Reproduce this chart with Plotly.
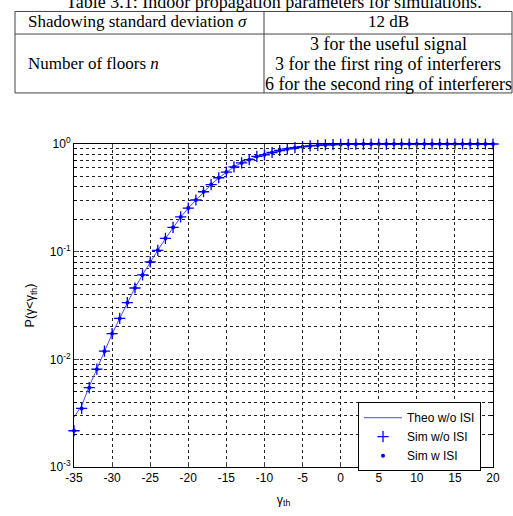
import plotly.graph_objects as go

# ---------------- data ----------------
gamma_th = [-35, -34, -33, -32, -31, -30, -29, -28, -27, -26,
            -25, -24, -23, -22, -21, -20, -19, -18, -17, -16,
            -15, -14, -13, -12, -11, -10, -9, -8, -7, -6,
            -5, -4, -3, -2, -1, 0, 1, 2, 3, 4,
            5, 6, 7, 8, 9, 10, 11, 12, 13, 14,
            15, 16, 17, 18, 19, 20]

theo_wo_isi = [0.0029, 0.0037, 0.0056, 0.0082, 0.0119, 0.0172, 0.0240, 0.0335, 0.0460, 0.0610,
               0.0805, 0.1030, 0.1320, 0.1680, 0.2090, 0.2540, 0.3020, 0.3590, 0.4200, 0.4850,
               0.5470, 0.6120, 0.6670, 0.7150, 0.7650, 0.8000, 0.8350, 0.8700, 0.9000, 0.9250,
               0.9450, 0.9600, 0.9720, 0.9810, 0.9870, 0.9910, 0.9940, 0.9960, 0.9975, 0.9985,
               0.9990, 0.9994, 0.9996, 0.9998, 0.9999, 0.9999, 1.0, 1.0, 1.0, 1.0,
               1.0, 1.0, 1.0, 1.0, 1.0, 1.0]

sim_wo_isi = [0.00217, 0.0035, 0.00545, 0.0081, 0.0119, 0.0173, 0.0240, 0.0336, 0.0460, 0.0608,
              0.0805, 0.1030, 0.1330, 0.1680, 0.2100, 0.2540, 0.3020, 0.3600, 0.4200, 0.4860,
              0.5480, 0.6140, 0.6670, 0.7150, 0.7670, 0.7940, 0.8340, 0.8700, 0.9000, 0.9250,
              0.9450, 0.9600, 0.9720, 0.9810, 0.9870, 0.9910, 0.9940, 0.9960, 0.9975, 0.9985,
              0.9990, 0.9994, 0.9996, 0.9998, 0.9999, 0.9999, 1.0, 1.0, 1.0, 1.0,
              1.0, 1.0, 1.0, 1.0, 1.0, 1.0]

sim_w_isi = [0.00217, 0.0035, 0.00545, 0.0081, 0.0119, 0.0173, 0.0240, 0.0336, 0.0460, 0.0608,
             0.0805, 0.1030, 0.1330, 0.1680, 0.2100, 0.2540, 0.3020, 0.3600, 0.4200, 0.4860,
             0.5480, 0.6140, 0.6670, 0.7150, 0.7670, 0.7940, 0.8340, 0.8700, 0.9000, 0.9250,
             0.9450, 0.9600, 0.9720, 0.9810, 0.9870, 0.9910, 0.9940, 0.9960, 0.9975, 0.9985,
             0.9990, 0.9994, 0.9996, 0.9998, 0.9999, 0.9999, 1.0, 1.0, 1.0, 1.0,
             1.0, 1.0, 1.0, 1.0, 1.0, 1.0]

y_tickvals = [0.001, 0.01, 0.1, 1]
y_ticktext = ["10<sup>-3</sup>", "10<sup>-2</sup>", "10<sup>-1</sup>", "10<sup>0</sup>"]
y_minor_vals = [m * d for d in (0.001, 0.01, 0.1) for m in range(2, 10)]
x_tickvals = [-35, -30, -25, -20, -15, -10, -5, 0, 5, 10, 15, 20]
x_ticktext = ["-35", "-30", "-25", "-20", "-15", "-10", "-5", "0", "5", "10", "15", "20"]

table_caption = "Table 3.1: Indoor propagation parameters for simulations."
table_row1 = ["Shadowing standard deviation <i>σ</i>", "12 dB"]
table_row2_left = "Number of floors <i>n</i>"
table_row2_right = ["3 for the useful signal",
                    "3 for the first ring of interferers",
                    "6 for the second ring of interferers"]

# ---------------- layout geometry ----------------
W, H = 513, 516
L, R, T, B = 74, 20, 144, 43
PW, PH = W - L - R, H - T - B


def px(xp):
    return (xp - L) / PW


def py(yp):
    return (H - B - yp) / PH


blue = "#0000ff"
fig = go.Figure()
fig.add_trace(go.Scatter(x=gamma_th, y=theo_wo_isi, mode="lines", name="Theo w/o ISI",
                         line=dict(color="#4a4aff", width=1), cliponaxis=False))
fig.add_trace(go.Scatter(x=gamma_th, y=sim_wo_isi, mode="markers", name="Sim w/o ISI",
                         marker=dict(symbol="cross-thin", size=8, color=blue,
                                     line=dict(color=blue, width=1.3)), cliponaxis=False))
fig.add_trace(go.Scatter(x=gamma_th, y=sim_w_isi, mode="markers", name="Sim w ISI",
                         marker=dict(symbol="circle", size=4, color=blue), cliponaxis=False))

grid_kw = dict(gridcolor="#222222", gridwidth=1, griddash="3px,3px")

fig.update_xaxes(range=[-35, 20], tickvals=x_tickvals, ticktext=x_ticktext, ticks="inside", ticklen=5,
                 showline=True, linecolor="black", linewidth=1, mirror="allticks",
                 showgrid=True, zeroline=False, tickfont=dict(size=12, color="black"),
                 title=dict(text="γ<sub>th</sub>", font=dict(size=12.5, color="black"), standoff=10),
                 **grid_kw)
fig.update_yaxes(type="log", range=[-3, 0], tickvals=y_tickvals, ticktext=y_ticktext,
                 ticks="inside", ticklen=5, showline=True, linecolor="black", linewidth=1,
                 mirror="allticks", showgrid=True, zeroline=False,
                 tickfont=dict(size=12, color="black"),
                 title=dict(text="P(γ<γ<sub>th</sub>)", font=dict(size=12.5, color="black"), standoff=12),
                 minor=dict(tickvals=y_minor_vals, ticks="inside", ticklen=3, tickcolor="black",
                            showgrid=True, **grid_kw),
                 **grid_kw)

annotations = []
shapes = []
serif_l = dict(family="Liberation Serif", size=17, color="black")
serif_r = dict(family="Liberation Serif", size=18, color="black")
# table lines
tl, tdiv, tr = 15, 264, 512
for yl in (9, 32, 92):
    shapes.append(dict(type="line", xref="paper", yref="paper", x0=px(tl), x1=px(tr),
                       y0=py(yl), y1=py(yl), line=dict(color="#444", width=1)))
for xl in (tl, tdiv, tr):
    shapes.append(dict(type="line", xref="paper", yref="paper", x0=px(xl), x1=px(xl),
                       y0=py(9), y1=py(92), line=dict(color="#444", width=1)))

annotations.append(dict(text=table_caption, xref="paper", yref="paper", x=px(274), y=py(-1),
                        xanchor="center", yanchor="middle", showarrow=False,
                        font=dict(family="Liberation Serif", size=18, color="black")))
annotations.append(dict(text=table_row1[0], xref="paper", yref="paper", x=px(26), y=py(19),
                        xanchor="left", yanchor="middle", showarrow=False, font=serif_l))
annotations.append(dict(text=table_row1[1], xref="paper", yref="paper", x=px(388), y=py(19),
                        xanchor="center", yanchor="middle", showarrow=False, font=serif_l))
annotations.append(dict(text=table_row2_left, xref="paper", yref="paper", x=px(26), y=py(62),
                        xanchor="left", yanchor="middle", showarrow=False, font=serif_l))
for i, t in enumerate(table_row2_right):
    annotations.append(dict(text=t, xref="paper", yref="paper", x=px(388), y=py(42 + 20.5 * i),
                            xanchor="center", yanchor="middle", showarrow=False, font=serif_r))

fig.update_layout(
    width=W, height=H, margin=dict(l=L, r=R, t=T, b=B),
    paper_bgcolor="white", plot_bgcolor="white",
    font=dict(family="Liberation Sans, Arial", size=12, color="black"),
    showlegend=True,
    legend=dict(x=px(358), y=py(407), xanchor="left", yanchor="top",
                bgcolor="white", bordercolor="black", borderwidth=1,
                font=dict(size=12, color="black"), tracegroupgap=0, itemwidth=38),
    shapes=shapes, annotations=annotations,
)

fig.write_html("out.html")
